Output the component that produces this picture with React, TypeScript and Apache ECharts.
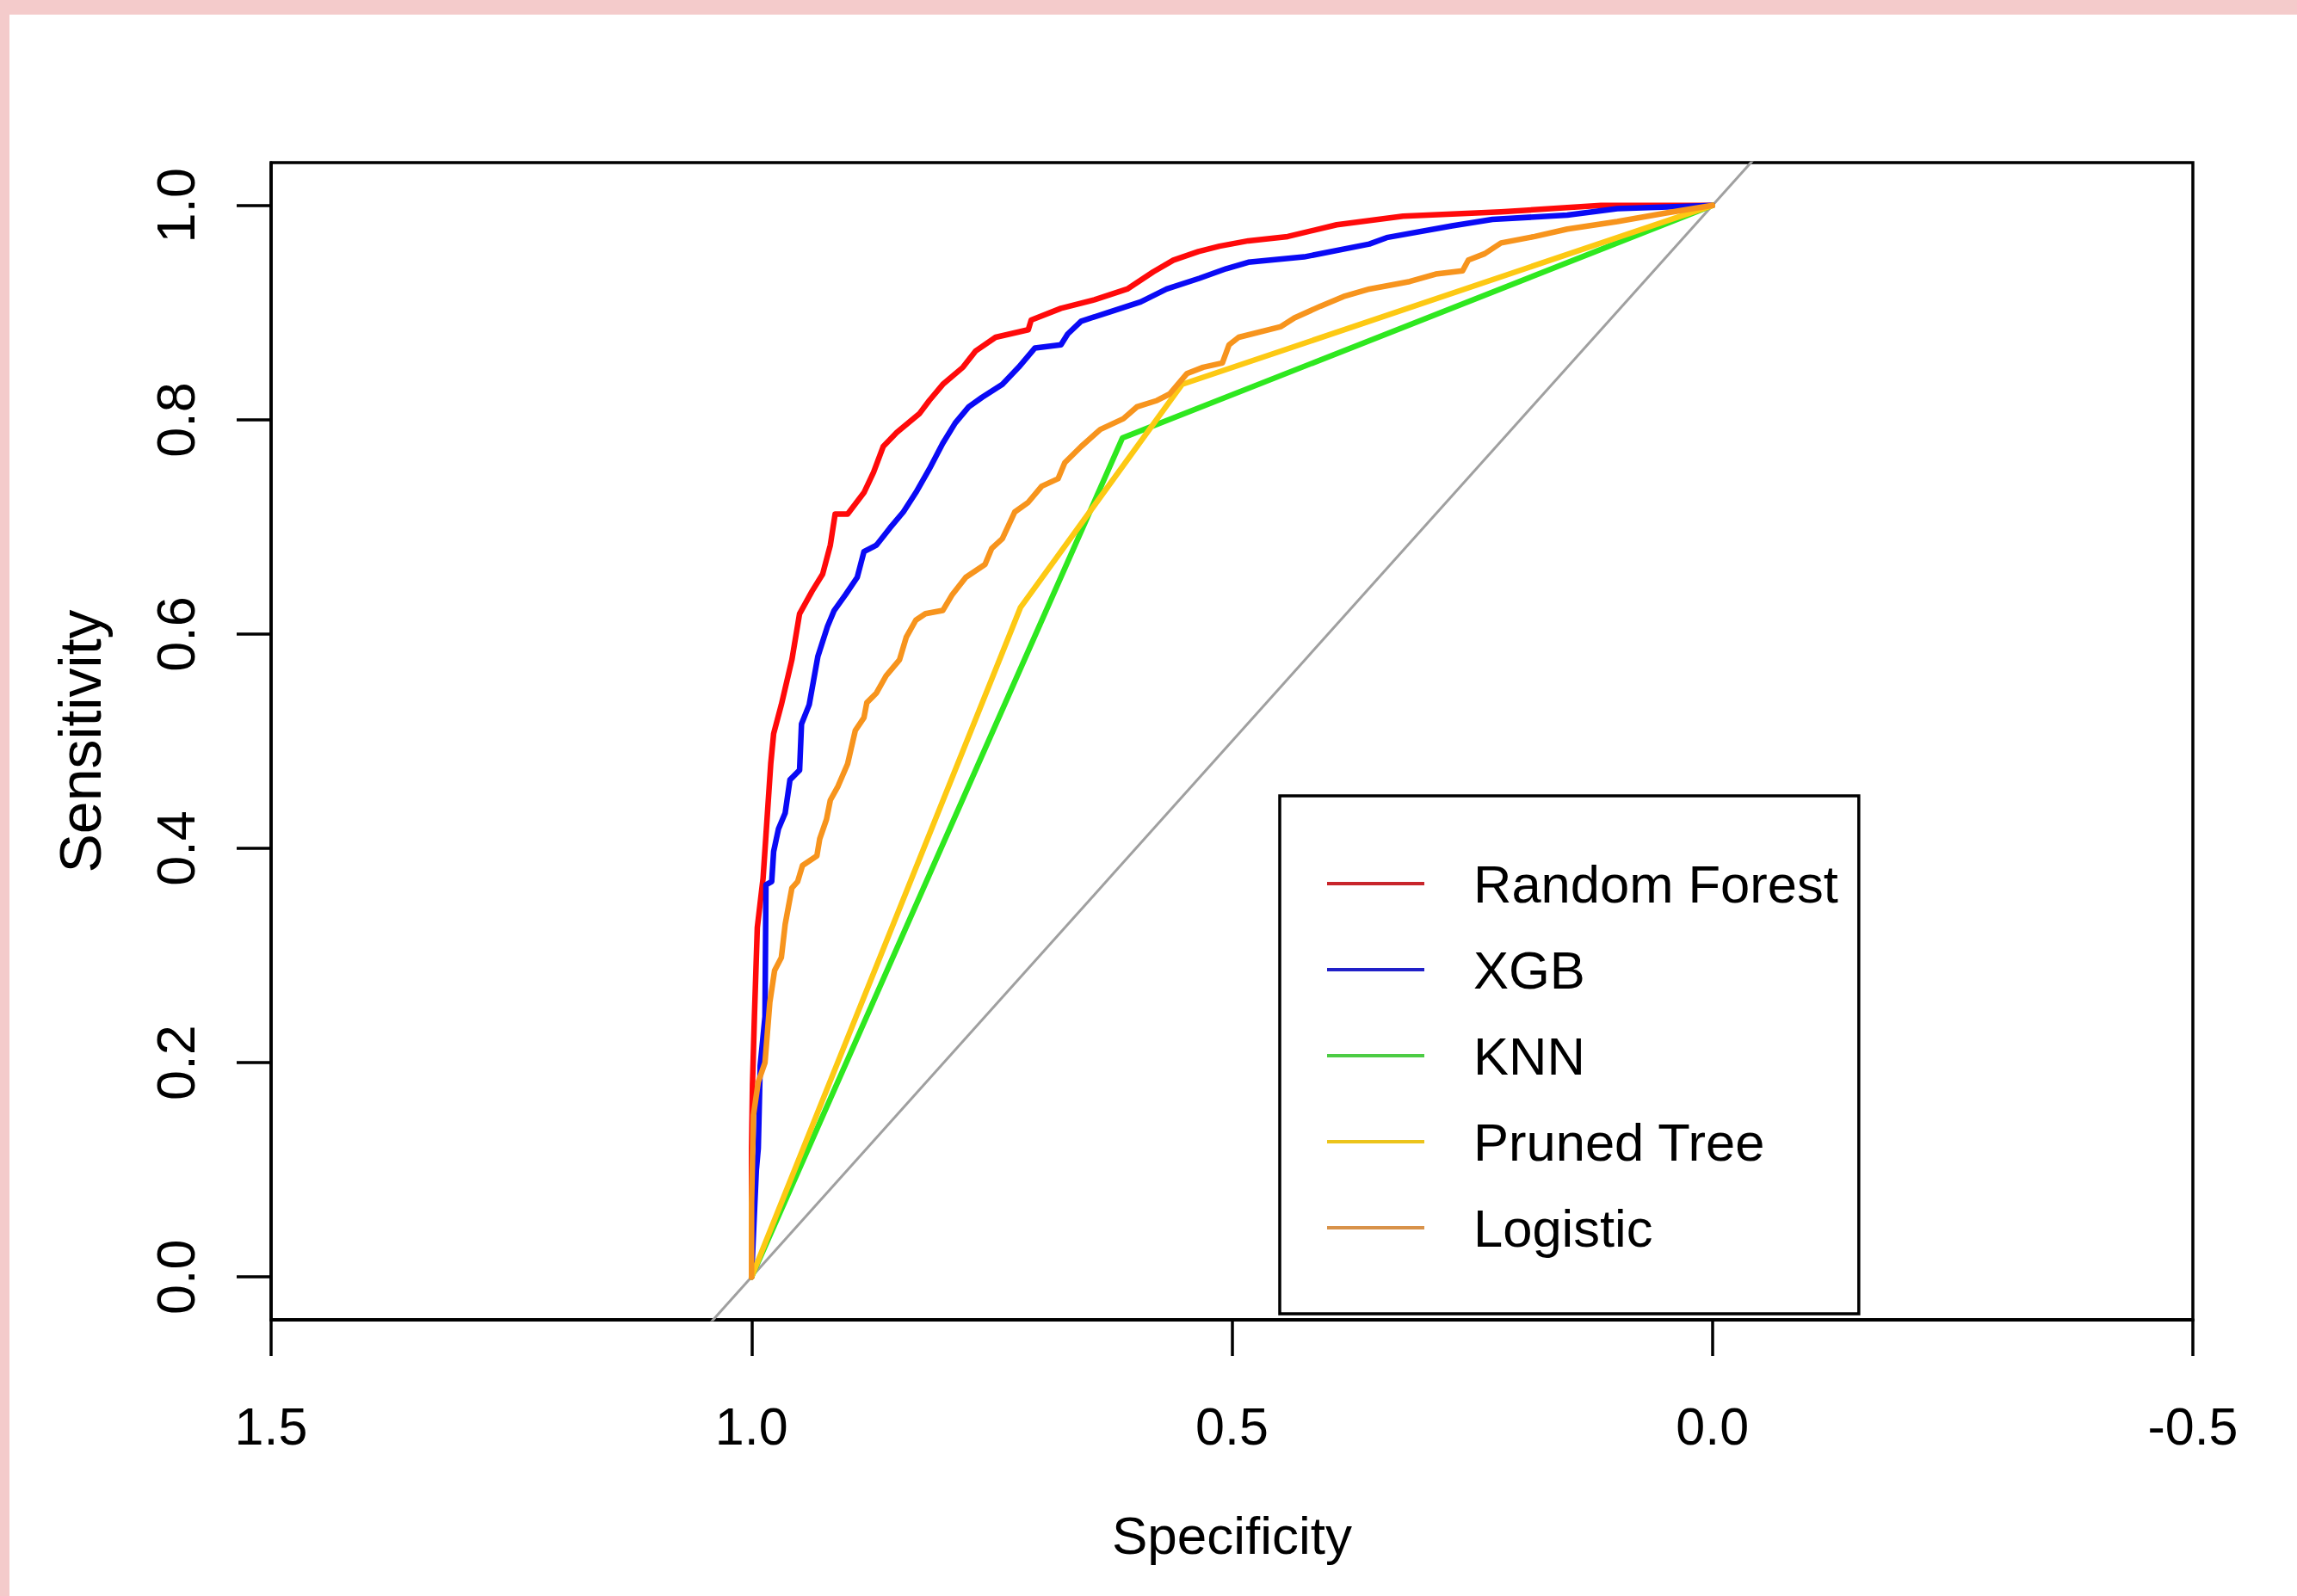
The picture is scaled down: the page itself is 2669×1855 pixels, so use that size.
import React, { useEffect, useRef } from "react";
import * as echarts from "echarts";

// ROC curves: [specificity, sensitivity]
const randomForest: number[][] = [
  [1, 0], [1, 0.12], [0.999, 0.18], [0.997, 0.243], [0.994, 0.326], [0.988, 0.372], [0.985, 0.412],
  [0.98, 0.479], [0.977, 0.507], [0.969, 0.534], [0.958, 0.576], [0.95, 0.619], [0.937, 0.64],
  [0.926, 0.656], [0.918, 0.683], [0.913, 0.712], [0.9, 0.712], [0.883, 0.732], [0.873, 0.751],
  [0.863, 0.775], [0.849, 0.788], [0.825, 0.806], [0.815, 0.818], [0.801, 0.833], [0.78, 0.849],
  [0.767, 0.864], [0.746, 0.877], [0.712, 0.884], [0.709, 0.893], [0.678, 0.904], [0.643, 0.912],
  [0.609, 0.922], [0.582, 0.938], [0.561, 0.949], [0.535, 0.957], [0.513, 0.962], [0.483, 0.967],
  [0.442, 0.971], [0.391, 0.982], [0.322, 0.99], [0.22, 0.994], [0.116, 1.0], [0, 1],
];
const xgb: number[][] = [
  [1, 0], [0.995, 0.1], [0.993, 0.12], [0.991, 0.197], [0.986, 0.243], [0.985, 0.366], [0.979, 0.369],
  [0.977, 0.397], [0.972, 0.418], [0.965, 0.433], [0.96, 0.464], [0.95, 0.473], [0.948, 0.516],
  [0.94, 0.534], [0.931, 0.579], [0.921, 0.607], [0.914, 0.622], [0.902, 0.637], [0.89, 0.653],
  [0.883, 0.677], [0.87, 0.683], [0.856, 0.699], [0.842, 0.714], [0.829, 0.732], [0.815, 0.754],
  [0.801, 0.778], [0.788, 0.797], [0.774, 0.812], [0.76, 0.821], [0.739, 0.833], [0.722, 0.849],
  [0.705, 0.867], [0.678, 0.87], [0.671, 0.88], [0.657, 0.892], [0.626, 0.901], [0.595, 0.91],
  [0.568, 0.922], [0.534, 0.932], [0.506, 0.941], [0.483, 0.947], [0.425, 0.952], [0.357, 0.964],
  [0.339, 0.97], [0.271, 0.981], [0.229, 0.987], [0.151, 0.991], [0.099, 0.997], [0, 1],
];
const knn: number[][] = [[1, 0], [0.614, 0.783], [0, 1]];
const prunedTree: number[][] = [[1, 0], [0.72, 0.625], [0.552, 0.833], [0, 1]];
const logistic: number[][] = [
  [1, 0], [1, 0.069], [0.998, 0.151], [0.993, 0.182], [0.986, 0.2], [0.981, 0.256], [0.976, 0.286],
  [0.969, 0.298], [0.965, 0.329], [0.958, 0.363], [0.952, 0.369], [0.947, 0.384], [0.932, 0.393],
  [0.929, 0.409], [0.922, 0.427], [0.918, 0.445], [0.91, 0.458], [0.9, 0.479], [0.892, 0.51],
  [0.883, 0.522], [0.88, 0.536], [0.87, 0.545], [0.86, 0.561], [0.846, 0.576], [0.839, 0.597],
  [0.829, 0.613], [0.819, 0.619], [0.801, 0.622], [0.791, 0.637], [0.777, 0.653], [0.757, 0.665],
  [0.75, 0.68], [0.739, 0.689], [0.726, 0.714], [0.712, 0.723], [0.698, 0.738], [0.681, 0.745],
  [0.674, 0.76], [0.657, 0.775], [0.637, 0.791], [0.613, 0.801], [0.599, 0.812], [0.578, 0.818],
  [0.565, 0.824], [0.547, 0.843], [0.53, 0.849], [0.51, 0.853], [0.503, 0.87], [0.493, 0.877],
  [0.449, 0.887], [0.435, 0.895], [0.408, 0.906], [0.384, 0.915], [0.357, 0.922], [0.315, 0.929],
  [0.288, 0.936], [0.26, 0.939], [0.254, 0.949], [0.237, 0.955], [0.22, 0.965], [0.185, 0.971],
  [0.151, 0.978], [0.099, 0.985], [0.048, 0.993], [0, 1],
];
// chance diagonal (sensitivity = 1 - specificity), clipped to the plot
const diagonal: number[][] = [[1.5, -0.5], [-0.5, 1.5]];

const modelNames = ["Random Forest", "XGB", "KNN", "Pruned Tree", "Logistic"];
const lineColors = ["#ff0a0a", "#0a0af5", "#2ee81f", "#fdc913", "#f7941d"];
const legendColors = ["#c8252b", "#2020c8", "#4ccc44", "#ecc41c", "#d8924a"];
const yTicks = [0, 0.2, 0.4, 0.6, 0.8, 1.0];

const FONT = "'Liberation Sans', Arial, Helvetica, sans-serif";
const W = 2669;
const H = 1855;

export default function App() {
  const ref = useRef<HTMLDivElement>(null);
  useEffect(() => {
    if (!ref.current) return;
    const chart = echarts.init(ref.current, undefined, { renderer: "svg" });
    const curves = [randomForest, xgb, knn, prunedTree, logistic];
    const series: any[] = [
      {
        name: "diagonal",
        type: "line",
        data: diagonal,
        showSymbol: false,
        symbol: "none",
        clip: true,
        lineStyle: { color: "#a0a0a0", width: 3 },
        silent: true,
      },
      ...curves.map((d, i) => ({
        name: modelNames[i],
        type: "line",
        data: d,
        showSymbol: false,
        symbol: "none",
        clip: true,
        itemStyle: { color: lineColors[i] },
        lineStyle: { color: lineColors[i], width: 6.5, cap: "round", join: "round" },
      })),
    ];
    chart.setOption({
      animation: false,
      backgroundColor: "#f4cbcb",
      graphic: [
        {
          type: "rect",
          z: -100,
          silent: true,
          shape: { x: 11, y: 17, width: W - 11, height: H - 17 },
          style: { fill: "#ffffff" },
        },
      ],
      grid: {
        left: 315,
        top: 189,
        right: W - 2548,
        bottom: H - 1534,
        show: true,
        borderColor: "#000",
        borderWidth: 3.5,
        backgroundColor: "transparent",
      },
      xAxis: {
        type: "value",
        min: -0.5,
        max: 1.5,
        interval: 0.5,
        inverse: true,
        position: "bottom",
        axisLine: { show: true, onZero: false, lineStyle: { color: "#000", width: 4 } },
        axisTick: { show: true, inside: false, length: 42, lineStyle: { color: "#000", width: 3.5 } },
        axisLabel: {
          fontSize: 61,
          fontFamily: FONT,
          color: "#000",
          margin: 93,
          showMinLabel: true,
          showMaxLabel: true,
          formatter: (v: number) => v.toFixed(1),
        },
        splitLine: { show: false },
        name: "Specificity",
        nameLocation: "middle",
        nameGap: 219,
        nameTextStyle: { fontSize: 62, fontFamily: FONT, color: "#000" },
      },
      yAxis: {
        type: "value",
        min: -0.04,
        max: 1.04,
        axisLine: { show: true, onZero: false, lineStyle: { color: "#000", width: 3.5 } },
        axisTick: {
          show: true,
          length: 40,
          customValues: yTicks,
          lineStyle: { color: "#000", width: 3.5 },
        },
        axisLabel: {
          rotate: 90,
          customValues: yTicks,
          fontSize: 63,
          fontFamily: FONT,
          color: "#000",
          margin: 80,
          formatter: (v: number) => v.toFixed(1),
        },
        splitLine: { show: false },
        name: "Sensitivity",
        nameLocation: "middle",
        nameGap: 188,
        nameRotate: 90,
        nameTextStyle: { fontSize: 68, fontFamily: FONT, color: "#000" },
      },
      legend: {
        orient: "vertical",
        left: 1487,
        top: 925,
        data: modelNames.map((n, i) => ({ name: n, itemStyle: { color: legendColors[i] } })),
        icon: "rect",
        itemWidth: 113,
        itemHeight: 4,
        itemGap: 20,
        padding: [62, 24, 60, 55],
        borderColor: "#000",
        borderWidth: 3.5,
        borderRadius: 0,
        backgroundColor: "#fff",
        selectedMode: false,
        textStyle: {
          fontSize: 61.5,
          fontFamily: FONT,
          color: "#000",
          lineHeight: 80,
          padding: [0, 0, 0, 52],
        },
      },
      series,
    });
    return () => chart.dispose();
  }, []);
  return (
    <div
      ref={ref}
      style={{ position: "fixed", left: 0, top: 0, width: W, height: H }}
    />
  );
}
